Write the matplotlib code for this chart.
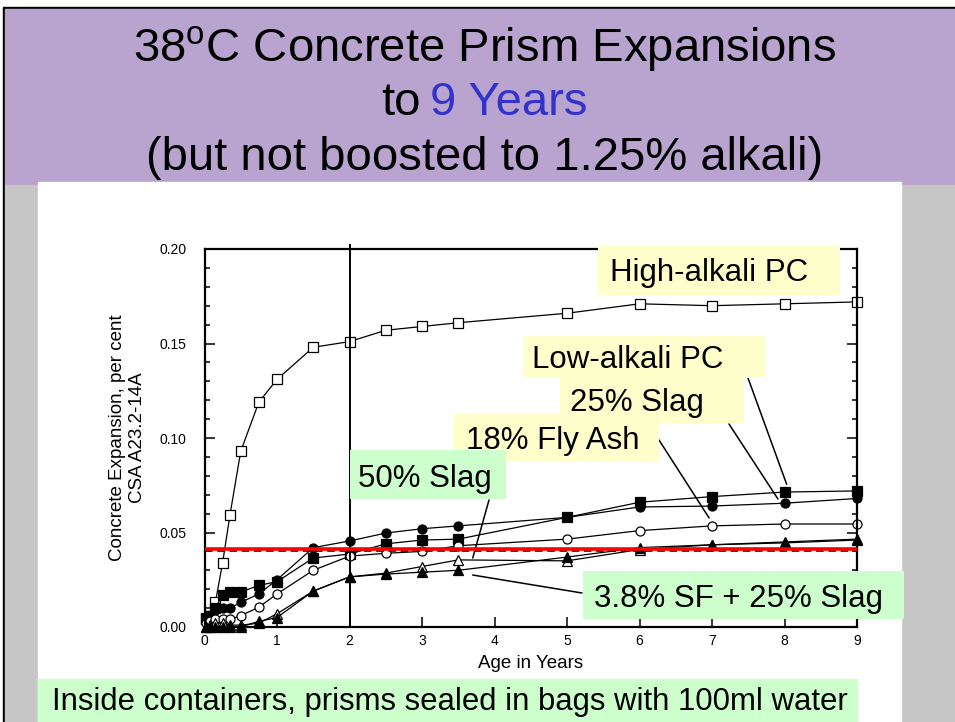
import numpy as np
import matplotlib
matplotlib.use('Agg')
from matplotlib import pyplot as plt
from matplotlib import patches
from matplotlib.patches import ConnectionPatch

plt.rcParams['font.family'] = ['Liberation Sans', 'DejaVu Sans']
plt.rcParams['mathtext.fontset'] = 'custom'

# age in years
years = [0.02, 0.08, 0.15, 0.25, 0.35, 0.5, 0.75, 1.0, 1.5, 2.0, 2.5, 3.0, 3.5, 5.0, 6.0, 7.0, 8.0, 9.0]

# expansion, per cent
high_alkali = [0.005, 0.006, 0.013, 0.034, 0.059, 0.093, 0.119, 0.131, 0.148, 0.151, 0.157, 0.159,
               0.161, 0.166, 0.171, 0.170, 0.171, 0.172]
low_alkali = [0.004, 0.006, 0.010, 0.017, 0.0185, 0.0185, 0.022, 0.024, 0.0365, 0.0386, 0.044, 0.046,
              0.0465, 0.058, 0.066, 0.069, 0.0714, 0.072]
slag_25 = [0.003, 0.005, 0.009, 0.010, 0.010, 0.013, 0.0175, 0.025, 0.042, 0.0455, 0.0497, 0.052,
           0.0535, 0.058, 0.0635, 0.064, 0.0655, 0.068]
fly_ash_18 = [0.002, 0.003, 0.004, 0.004, 0.004, 0.006, 0.0105, 0.0175, 0.030, 0.0375, 0.039, 0.040,
              0.043, 0.0465, 0.051, 0.0535, 0.0545, 0.0545]
slag_50 = [0.0, 0.001, 0.002, 0.002, 0.001, 0.001, 0.002, 0.007, 0.019, 0.0265, 0.0285, 0.032,
           0.0355, 0.035, 0.041, 0.0435, 0.045, 0.0465]
sf_slag = [0.0, 0.0, 0.0, 0.0, 0.0, 0.0, 0.003, 0.005, 0.019, 0.0265, 0.028, 0.029,
           0.030, 0.037, 0.042, 0.0435, 0.0445, 0.046]

limit_red = 0.0413
limit_dash = 0.040

# label text, where the pointer line leaves the box (pixels) and where it ends (data)
callouts = [
    ('Low-alkali PC', (748, 378), (8.03, 0.0755)),
    ('25% Slag', (729, 424), (7.91, 0.0677)),
    ('18% Fly Ash', (659, 440), (6.96, 0.0577)),
    ('50% Slag', (489, 500), (3.70, 0.0365)),
    ('3.8% SF + 25% Slag', (582, 593), (3.70, 0.0275)),
]

W, H = 955, 722
purple = '#b9a3cf'
gray = '#c6c6c6'
yellow = '#ffffcc'
green = '#ccffcc'

fig = plt.figure(figsize=(W / 100, H / 100), dpi=100)
fig.patch.set_facecolor('white')

# slide background, in pixel coords
bg = fig.add_axes([0, 0, 1, 1], zorder=0)
bg.add_patch(patches.Rectangle((3, 7), W, H, color='black'))
bg.add_patch(patches.Rectangle((5, 9), W, 176, color=purple))
bg.add_patch(patches.Rectangle((5, 185), W, H, color=gray))
grad = np.array([0.93, 0.9, 0.82, 0.72, 0.66, 0.66, 0.7, 0.74, 0.76, 0.77, 0.78]).reshape(-1, 1)
bg.imshow(grad, extent=(5, W, 198, 183), cmap='gray', vmin=0, vmax=1, aspect='auto',
          interpolation='bilinear', origin='upper')
bg.add_patch(patches.Rectangle((38, 182), 863, 540, color='white'))
bg.add_patch(patches.Rectangle((38, 679), 819, 43, color=green))
bg.set_xlim(0, W)
bg.set_ylim(H, 0)
bg.axis('off')

bg.text(485, 61, r'38$^{\mathregular{o}}$C Concrete Prism Expansions', fontsize=34,
        ha='center', va='baseline')
bg.text(421, 115, 'to', fontsize=34, ha='right', va='baseline')
bg.text(430, 115, '9 Years', fontsize=34, ha='left', va='baseline', color='#3333cc')
bg.text(485, 170, '(but not boosted to 1.25% alkali)', fontsize=34, ha='center', va='baseline')
bg.text(52, 710, 'Inside containers, prisms sealed in bags with 100ml water', fontsize=22.4,
        ha='left', va='baseline')

# the chart
ax = fig.add_axes([204.5 / W, 1 - 627 / H, 652.5 / W, 378 / H], zorder=2)
ax.patch.set_alpha(0)

series = [
    (high_alkali, 's', 'white'),
    (low_alkali, 's', 'black'),
    (slag_25, 'o', 'black'),
    (fly_ash_18, 'o', 'white'),
    (slag_50, '^', 'white'),
    (sf_slag, '^', 'black'),
]
for vals, mk, fc in series:
    ax.plot(years, vals, '-', color='black', lw=0.9, marker=mk, markersize=6.5,
            markerfacecolor=fc, markeredgecolor='black', markeredgewidth=0.9, clip_on=False)

ax.axvline(2, color='black', lw=1.4, ymax=1.01, clip_on=False)
ax.axhline(limit_dash, color='black', lw=1.1, ls=(0, (5, 3)), zorder=5)
ax.axhline(limit_red, color='red', lw=2.6, zorder=6)

ax.set_xlim(0, 9)
ax.set_ylim(0, 0.2)
ax.set_xticks(range(10))
ax.set_yticks([0, 0.05, 0.10, 0.15, 0.20])
ax.set_yticklabels(['0.00', '0.05', '0.10', '0.15', '0.20'])
ax.set_yticks(np.arange(0, 0.201, 0.01), minor=True)
ax.tick_params(axis='both', which='both', direction='in', labelsize=10, width=1.1)
ax.tick_params(axis='y', which='both', right=True, pad=13)
ax.tick_params(axis='x', which='both', top=False, pad=5)
ax.tick_params(which='major', length=7)
ax.tick_params(which='minor', length=3.6)
for sp in ax.spines.values():
    sp.set_linewidth(1.6)

ax.set_xlabel('Age in Years', fontsize=13.5, labelpad=5)
ax.text(-0.118, 0.5, 'Concrete Expansion, per cent\nCSA A23.2-14A', transform=ax.transAxes,
        rotation=90, ha='center', va='center', multialignment='center', fontsize=13.5,
        linespacing=1.2)

# label boxes on top of everything
ov = fig.add_axes([0, 0, 1, 1], zorder=3)
ov.set_xlim(0, W)
ov.set_ylim(H, 0)
ov.axis('off')
ov.patch.set_alpha(0)

boxes = [
    ('High-alkali PC', (598, 246, 840, 295), (610, 281), yellow),
    ('Low-alkali PC', (523, 336, 765, 378), (532, 368), yellow),
    ('25% Slag', (560, 378, 744, 423), (570, 411), yellow),
    ('18% Fly Ash', (454, 413, 659, 462), (466, 449), yellow),
    ('50% Slag', (350, 450, 506, 499), (358, 487), green),
    ('3.8% SF + 25% Slag', (583, 571, 904, 619), (594, 607), green),
]
for txt, (x0, y0, x1, y1), (tx, ty), col in boxes:
    ov.add_patch(patches.Rectangle((x0, y0), x1 - x0, y1 - y0, color=col, lw=0))
    ov.text(tx, ty, txt, fontsize=22.5, ha='left', va='baseline')

for txt, start, end in callouts:
    con = ConnectionPatch(xyA=start, coordsA=ov.transData, xyB=end, coordsB=ax.transData,
                          color='black', lw=1.1)
    fig.add_artist(con)

fig.savefig('out.png', dpi=100)
